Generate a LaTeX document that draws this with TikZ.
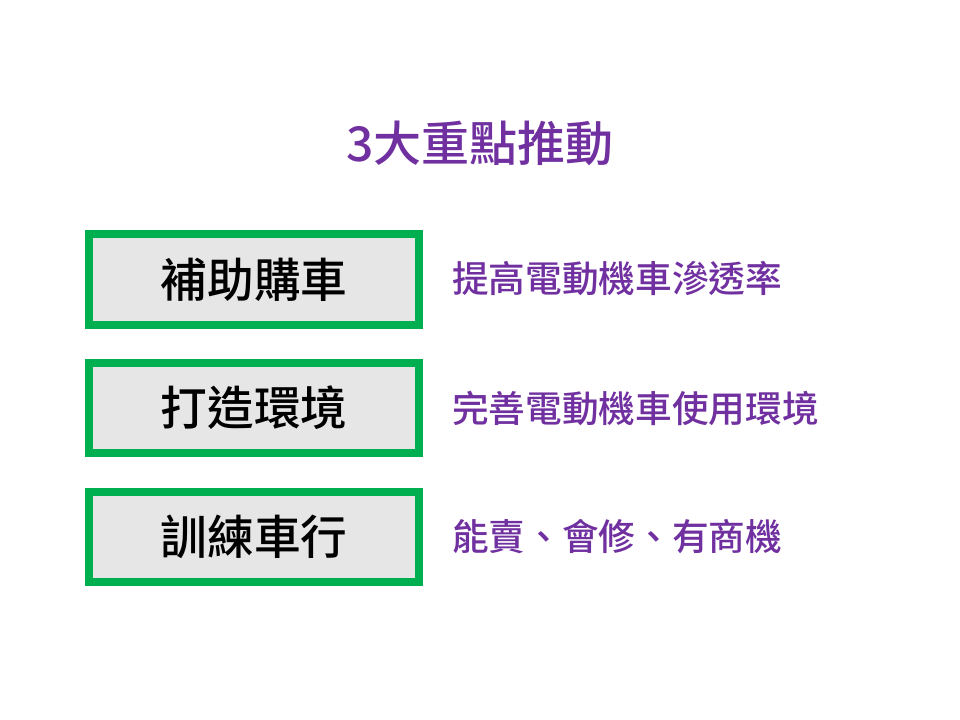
\documentclass[tikz,border=0pt]{standalone}
\usepackage{fontspec}
\setmainfont{Noto Sans CJK TC}[BoldFont={Noto Sans CJK TC Medium}]
\definecolor{boxgreen}{HTML}{00B050}
\definecolor{boxfill}{HTML}{E6E6E6}
\definecolor{txtpurple}{HTML}{7030A0}
\begin{document}
\begin{tikzpicture}[x=0.75pt,y=-0.75pt,
  keybox/.style={draw=boxgreen,fill=boxfill,line width=6pt},
  keytext/.style={font=\fontsize{35}{40}\selectfont\bfseries,text=black},
  desctext/.style={anchor=west,inner sep=0pt,font=\fontsize{27.5}{32}\selectfont\bfseries,text=txtpurple},
  titletext/.style={font=\fontsize{36}{42}\selectfont\bfseries,text=txtpurple}]
\useasboundingbox (0,0) rectangle (960,720);
\node[titletext] (title) at (480,143) {3大重點推動};
\draw[keybox] (89,234) rectangle (419,325);
\node[keytext] (k1) at (254,279.5) {補助購車};
\draw[keybox] (89,363) rectangle (419,453);
\node[keytext] (k2) at (254,408) {打造環境};
\draw[keybox] (89,492) rectangle (419,582);
\node[keytext] (k3) at (254,537) {訓練車行};
\node[desctext] (d1) at (452,279) {提高電動機車滲透率};
\node[desctext] (d2) at (452,408) {完善電動機車使用環境};
\node[desctext] (d3) at (452,537) {能賣、會修、有商機};
\end{tikzpicture}
\end{document}
